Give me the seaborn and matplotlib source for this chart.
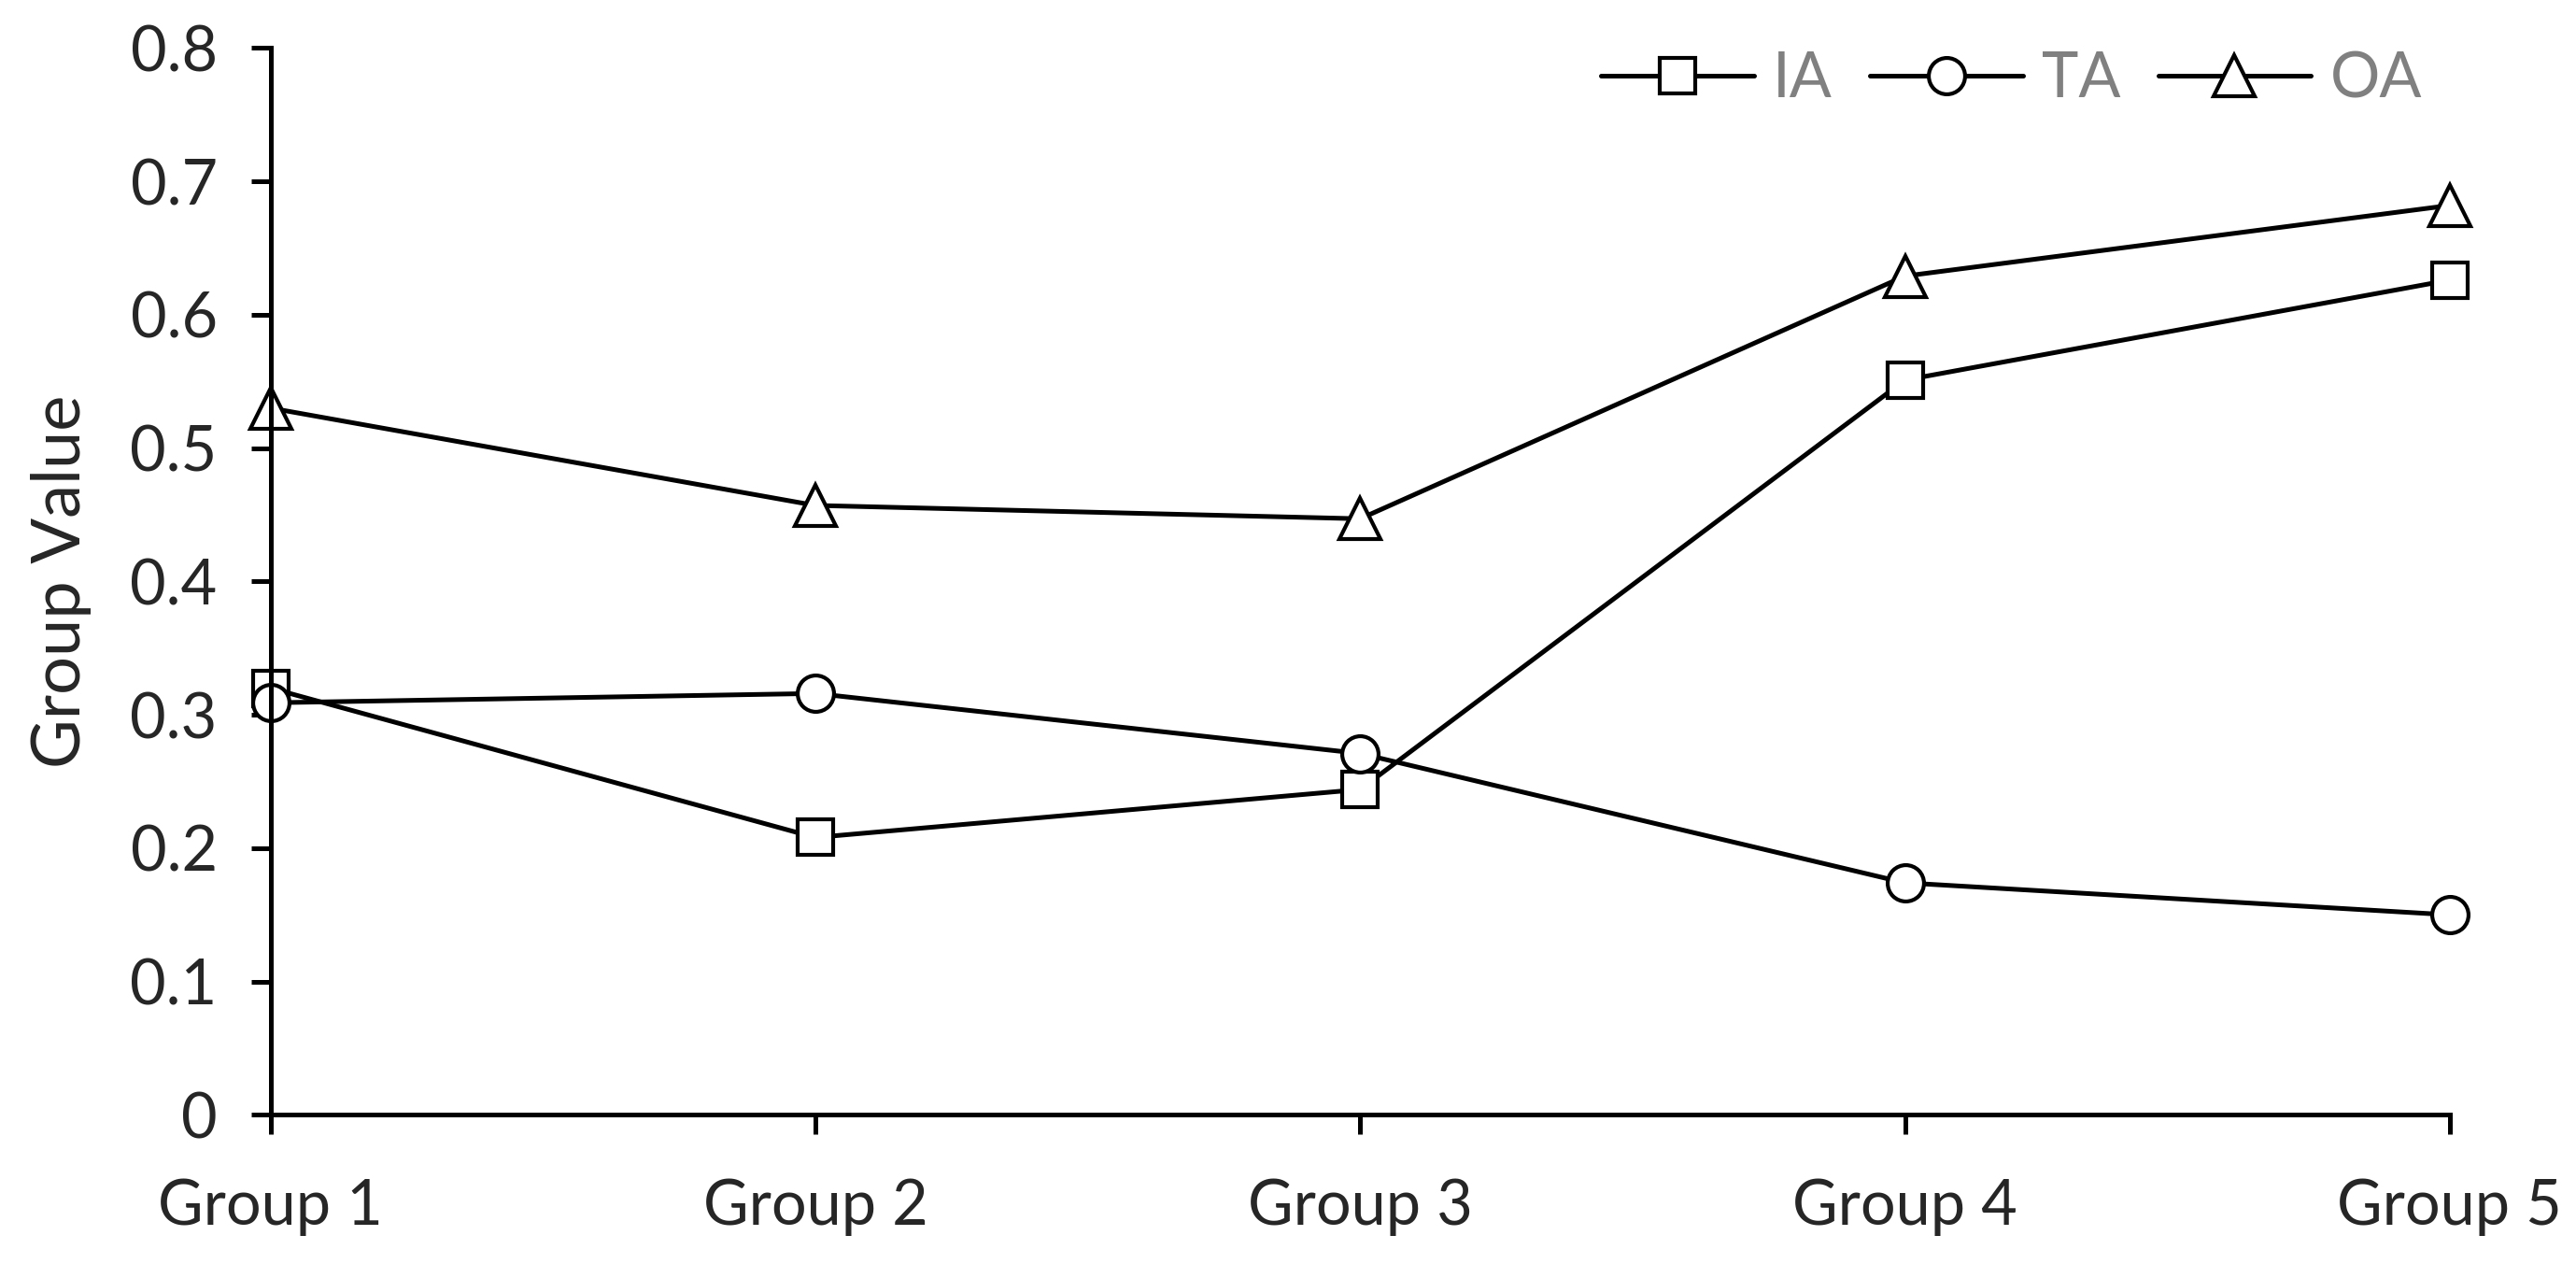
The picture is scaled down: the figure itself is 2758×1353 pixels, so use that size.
import matplotlib
matplotlib.use("Agg")
import matplotlib.pyplot as plt
import pandas as pd
import seaborn as sns

groups = ["Group 1", "Group 2", "Group 3", "Group 4", "Group 5"]
ia = [0.320, 0.208, 0.244, 0.551, 0.626]
ta = [0.309, 0.316, 0.271, 0.174, 0.150]
oa = [0.530, 0.457, 0.447, 0.629, 0.682]
series_names = ["IA", "TA", "OA"]
y_ticks = [0, 0.1, 0.2, 0.3, 0.4, 0.5, 0.6, 0.7, 0.8]
y_tick_labels = ["0", "0.1", "0.2", "0.3", "0.4", "0.5", "0.6", "0.7", "0.8"]

sns.set_style("ticks")
plt.rcParams["font.family"] = ["Lato", "DejaVu Sans"]

fig = plt.figure(figsize=(27.58, 13.53), dpi=100)
ax = fig.add_axes([0.105, 0.118, 0.846, 0.844])

markers = {"IA": "s", "TA": "o", "OA": "^"}
sizes = {"IA": 28, "TA": 28, "OA": 31}
for name, vals in zip(series_names, [ia, ta, oa]):
    df = pd.DataFrame({"x": range(len(groups)), "y": vals})
    sns.lineplot(data=df, x="x", y="y", ax=ax, color="black", linewidth=3.6,
                 marker=markers[name], markersize=sizes[name],
                 markerfacecolor="white", markeredgecolor="black",
                 markeredgewidth=3, label=name)

ax.set_xlim(0, 4)
ax.set_ylim(0, 0.8)
ax.set_xticks(range(len(groups)))
ax.set_xticklabels(groups)
ax.set_yticks(y_ticks)
ax.set_yticklabels(y_tick_labels)
ax.set_xlabel("")
ax.set_ylabel("Group Value", fontsize=52, labelpad=30)
ax.tick_params(axis="both", labelsize=48, length=15, width=3.6, color="black")
ax.tick_params(axis="y", pad=26)
ax.tick_params(axis="x", pad=34)
for s in ["left", "bottom"]:
    ax.spines[s].set_linewidth(3.6)
    ax.spines[s].set_color("black")
sns.despine(ax=ax)
for ln in ax.get_lines():
    ln.set_clip_on(False)

leg = ax.legend(loc="upper right", ncol=3, frameon=False, fontsize=48,
                handlelength=2.45, handletextpad=0.31, columnspacing=0.6,
                bbox_to_anchor=(1.013, 1.05))
for t in leg.get_texts():
    t.set_color("#808080")

fig.savefig("out.png", dpi=100)
